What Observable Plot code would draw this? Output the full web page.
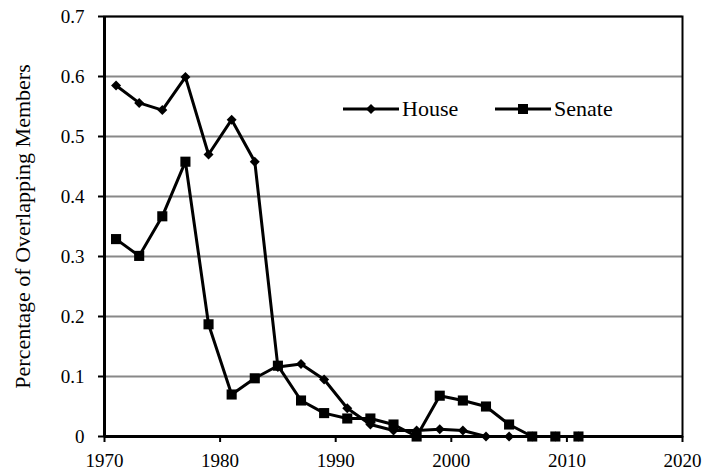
<!DOCTYPE html>
<html><head><meta charset="utf-8">
<script src="https://cdn.jsdelivr.net/npm/d3@7"></script>
<script src="https://cdn.jsdelivr.net/npm/@observablehq/plot@0.6"></script>
<style>
body{margin:0;background:#fff;}
#wrap{position:relative;width:704px;height:476px;font-family:"Liberation Serif","Times New Roman",serif;color:#000;}
#wrap svg text{font-family:"Liberation Serif","Times New Roman",serif !important;}
.legend{position:absolute;display:flex;align-items:center;font-size:22px;line-height:1;font-family:"Liberation Serif","Times New Roman",serif;}
.legend svg{display:block;margin-right:3px;}
</style></head><body><div id="wrap"></div>
<script>
const years = [1971,1973,1975,1977,1979,1981,1983,1985,1987,1989,1991,1993,1995,1997,1999,2001,2003,2005,2007,2009,2011];
const house = [0.585,0.556,0.544,0.599,0.470,0.528,0.458,0.116,0.121,0.095,0.047,0.020,0.010,0.010,0.012,0.010,0,0,0,0,0];
const senate = [0.329,0.301,0.367,0.458,0.187,0.070,0.097,0.118,0.060,0.039,0.030,0.030,0.020,0,0.068,0.060,0.050,0.020,0,0,0];
const seriesNames = ["House","Senate"];
const xTicks = [1970,1980,1990,2000,2010,2020];
const yTicks = [0,0.1,0.2,0.3,0.4,0.5,0.6,0.7];
const yTickLabels = ["0","0.1","0.2","0.3","0.4","0.5","0.6","0.7"];
const yLabel = "Percentage of Overlapping Members";

const houseRows = years.map((y,i)=>({year:y,value:house[i],series:seriesNames[0]}));
const senateRows = years.map((y,i)=>({year:y,value:senate[i],series:seriesNames[1]}));

const plot = Plot.plot({
  width:704, height:476,
  marginLeft:104, marginRight:22, marginTop:16, marginBottom:40,
  style:{fontFamily:"Liberation Serif, serif", fontSize:"19px", color:"#000", background:"#fff", overflow:"visible"},
  x:{domain:[1970,2020]},
  y:{domain:[0,0.7]},
  marks:[
    Plot.gridY(yTicks,{stroke:"#888",strokeOpacity:1,strokeWidth:2}),
    Plot.axisX({ticks:xTicks, tickFormat:d=>String(d), tickSize:6, tickPadding:11, strokeWidth:2, label:null, fontSize:19}),
    Plot.axisY({ticks:yTicks, tickFormat:(d,i)=>yTickLabels[i], tickSize:6, tickPadding:14, strokeWidth:2, fontSize:19,
      label:null}),
    Plot.axisY({ticks:[], tickSize:0, label:yLabel, labelAnchor:"center", labelArrow:"none", labelOffset:90, fontSize:22}),
    Plot.frame({stroke:"#000", strokeWidth:2}),
    Plot.ruleX([1970],{stroke:"#000",strokeWidth:3}),
    Plot.ruleY([0],{stroke:"#000",strokeWidth:3}),
    Plot.line(houseRows,{x:"year",y:"value",stroke:"#000",strokeWidth:3}),
    Plot.dot(houseRows,{x:"year",y:"value",symbol:"diamond2",r:4.5,fill:"#000",stroke:null}),
    Plot.line(senateRows,{x:"year",y:"value",stroke:"#000",strokeWidth:3}),
    Plot.dot(senateRows,{x:"year",y:"value",symbol:"square",r:5.7,fill:"#000",stroke:null})
  ]
});
const wrap = document.getElementById("wrap");
wrap.appendChild(plot);

function addLegend(name, symbol, left, top){
  const d = document.createElement("div");
  d.className = "legend";
  d.style.left = left+"px"; d.style.top = top+"px";
  const sz = 56, h = 14;
  const marker = symbol === "square"
    ? `<rect x="${sz/2-5}" y="${h/2-5}" width="10" height="10" fill="#000"/>`
    : `<path d="M${sz/2},${h/2-5}L${sz/2+5},${h/2}L${sz/2},${h/2+5}L${sz/2-5},${h/2}Z" fill="#000"/>`;
  d.innerHTML = `<svg width="${sz}" height="${h}"><line x1="0" x2="${sz}" y1="${h/2}" y2="${h/2}" stroke="#000" stroke-width="3"/>${marker}</svg><span>${name}</span>`;
  wrap.appendChild(d);
}
addLegend(seriesNames[0], "diamond2", 343, 98);
addLegend(seriesNames[1], "square", 495, 98);
</script></body></html>
